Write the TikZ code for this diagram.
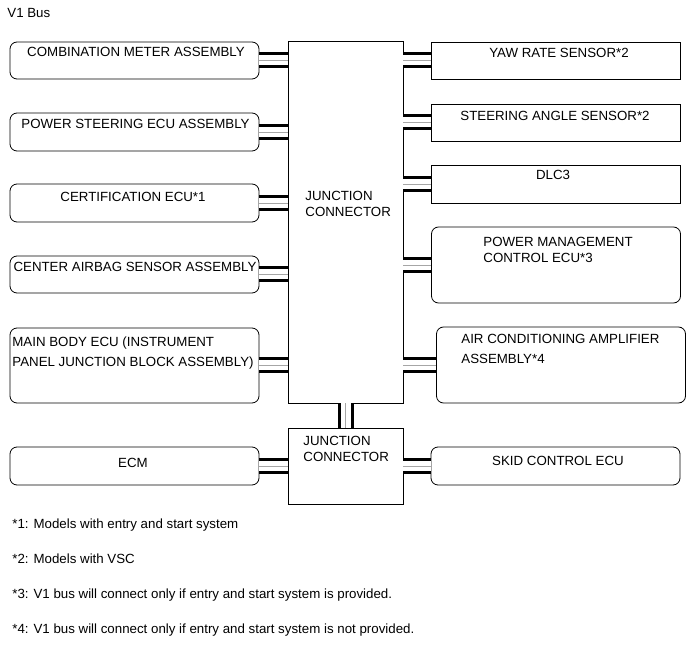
\documentclass[tikz,border=0pt]{standalone}
\usepackage{fontspec}
\setmainfont{Liberation Sans}
\begin{document}
\begin{tikzpicture}[x=1pt, y=-1pt, line width=0.8pt,
    ecu/.style={draw, rectangle, rounded corners=7pt, minimum width=249pt, inner sep=0pt},
    sensor/.style={draw, rectangle, minimum width=249pt, inner sep=0pt},
    jbox/.style={draw, rectangle, minimum width=115pt, inner sep=0pt},
    txt/.style={inner sep=0pt, font=\fontsize{13.3}{16}\selectfont},
    bus/.style={draw=white, line width=10pt, preaction={draw=black, line width=16pt}, postaction={draw=black!35, line width=0.7pt}}]
    \useasboundingbox (0,0) rectangle (691,660);

    % left side
    \node (combo) [ecu, minimum height=37pt] at (134.5,60.5) {};
    \node (pseps) [ecu, minimum height=38pt] at (134.5,132) {};
    \node (cert) [ecu, minimum height=38pt] at (134.5,203) {};
    \node (airbag) [ecu, minimum height=37pt] at (134.5,274.5) {};
    \node (mainbody) [ecu, minimum height=75pt] at (134.5,365.5) {};
    \node (ecm) [ecu, minimum height=38pt] at (134.5,466) {};

    % junction connectors
    \node (jc) [jbox, minimum height=362pt] at (345.5,222) {};
    \node (jc2) [jbox, minimum height=76pt] at (345.5,466) {};

    % right side
    \node (yaw) [sensor, minimum height=37pt] at (555.5,60.5) {};
    \node (steer) [sensor, minimum height=37pt] at (555.5,122.5) {};
    \node (dlc) [sensor, minimum height=38pt] at (555.5,184) {};
    \node (pwrmgmt) [ecu, minimum height=76pt] at (556,265) {};
    \node (aircon) [ecu, minimum height=76pt] at (561,365) {};
    \node (skid) [ecu, minimum height=38pt] at (555.5,466) {};

    % labels
    \node (title) [txt, anchor=base west] at (7,18) {V1 Bus};
    \node (combot) [txt, anchor=base] at (136,57) {COMBINATION METER ASSEMBLY};
    \node (psepst) [txt, anchor=base] at (135.5,129) {POWER STEERING ECU ASSEMBLY};
    \node (certt) [txt, anchor=base] at (133,202) {CERTIFICATION ECU*1};
    \node (airbagt) [txt, anchor=base] at (135,272) {CENTER AIRBAG SENSOR ASSEMBLY};
    \node (mainbodyt) [txt, anchor=north west, align=left] at (12,336.5) {MAIN BODY ECU (INSTRUMENT\\[4pt]PANEL JUNCTION BLOCK ASSEMBLY)};
    \node (ecmt) [txt, anchor=base] at (133,467) {ECM};
    \node (jct) [txt, anchor=north west, align=left] at (305,190.5) {JUNCTION\\CONNECTOR};
    \node (jc2t) [txt, anchor=north west, align=left] at (303,435.5) {JUNCTION\\CONNECTOR};
    \node (yawt) [txt, anchor=base] at (559,58) {YAW RATE SENSOR*2};
    \node (steert) [txt, anchor=base] at (555,121) {STEERING ANGLE SENSOR*2};
    \node (dlct) [txt, anchor=base] at (553,180) {DLC3};
    \node (pwrmgmtt) [txt, anchor=north west, align=left] at (483,236.5) {POWER MANAGEMENT\\CONTROL ECU*3};
    \node (aircont) [txt, anchor=north west, align=left] at (461,333.5) {AIR CONDITIONING AMPLIFIER\\[4pt]ASSEMBLY*4};
    \node (skidt) [txt, anchor=base] at (558,465) {SKID CONTROL ECU};

    % notes
    \node (note1) [txt, anchor=base west] at (12,528) {*1: Models with entry and start system};
    \node (note2) [txt, anchor=base west] at (12,563) {*2: Models with VSC};
    \node (note3) [txt, anchor=base west] at (12,598) {*3: V1 bus will connect only if entry and start system is provided.};
    \node (note4) [txt, anchor=base west] at (12,633) {*4: V1 bus will connect only if entry and start system is not provided.};

    % bus lines
    \draw[bus] (combo.east) -- (combo.east -| jc.west);
    \draw[bus] (pseps.east) -- (pseps.east -| jc.west);
    \draw[bus] (cert.east) -- (cert.east -| jc.west);
    \draw[bus] (airbag.east) -- (airbag.east -| jc.west);
    \draw[bus] (mainbody.east) -- (mainbody.east -| jc.west);
    \draw[bus] (ecm.east) -- (ecm.east -| jc2.west);
    \draw[bus] (jc.east |- yaw.west) -- (yaw.west);
    \draw[bus] (jc.east |- steer.west) -- (steer.west);
    \draw[bus] (jc.east |- dlc.west) -- (dlc.west);
    \draw[bus] (jc.east |- pwrmgmt.west) -- (pwrmgmt.west);
    \draw[bus] (jc.east |- aircon.west) -- (aircon.west);
    \draw[bus] (jc2.east |- skid.west) -- (skid.west);
    \draw[bus] (jc.south) -- (jc2.north);
\end{tikzpicture}
\end{document}
